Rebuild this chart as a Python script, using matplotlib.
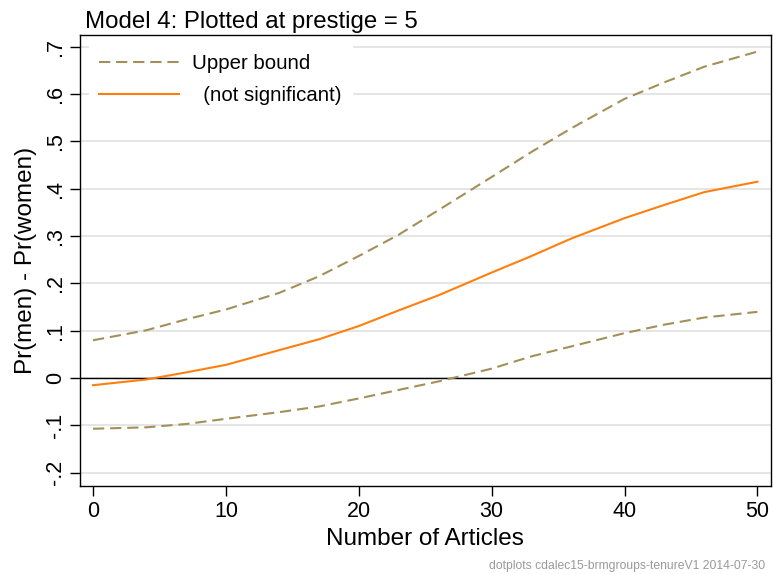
import matplotlib
matplotlib.use('Agg')
import matplotlib.pyplot as plt

plt.rcParams['font.family'] = ['Liberation Sans', 'DejaVu Sans']

# data
articles = [0, 4, 7, 10, 14, 17, 20, 23, 26, 30, 33, 36, 40, 43, 46, 50]
upper = [0.080, 0.101, 0.124, 0.145, 0.180, 0.215, 0.258, 0.303, 0.355, 0.425,
         0.478, 0.528, 0.590, 0.625, 0.658, 0.690]
diff = [-0.015, -0.003, 0.012, 0.028, 0.059, 0.082, 0.110, 0.143, 0.175, 0.223,
        0.258, 0.295, 0.338, 0.366, 0.393, 0.415]
lower = [-0.107, -0.104, -0.097, -0.086, -0.072, -0.060, -0.043, -0.025, -0.007, 0.020,
         0.046, 0.067, 0.095, 0.113, 0.128, 0.140]

yticks = [-0.2, -0.1, 0, 0.1, 0.2, 0.3, 0.4, 0.5, 0.6, 0.7]
ylabels = ['-.2', '-.1', '0', '.1', '.2', '.3', '.4', '.5', '.6', '.7']
xticks = [0, 10, 20, 30, 40, 50]

band_col = '#A38F58'
mid_col = '#FF7F0E'
dash = (0, (5.4, 2.8))

fig = plt.figure(figsize=(7.73, 5.74), dpi=100)
ax = fig.add_axes([0.1035, 0.1533, 0.8935, 0.7857])

for y in yticks:
    ax.axhline(y, color='#E0E0E0', lw=1.2, zorder=0)
ax.axhline(0, color='black', lw=1.0, zorder=1)

ax.plot(articles, upper, color=band_col, lw=1.5, ls=dash, label='Upper bound')
ax.plot(articles, diff, color=mid_col, lw=1.5, label='  (not significant)')
ax.plot(articles, lower, color=band_col, lw=1.5, ls=dash)

ax.set_xlim(-0.98, 51.0)
ax.set_ylim(-0.228, 0.725)
ax.set_yticks(yticks)
ax.set_yticklabels(ylabels, rotation=90, va='center')
ax.set_xticks(xticks)
ax.tick_params(axis='both', labelsize=15.5, length=7, width=1)
ax.tick_params(axis='y', pad=3)
ax.tick_params(axis='x', pad=4)

ax.set_xlabel('Number of Articles', fontsize=17.5, labelpad=4)
ax.set_ylabel('Pr(men) - Pr(women)', fontsize=17.5, labelpad=6)
ax.set_title('Model 4: Plotted at prestige = 5', fontsize=17.3, loc='left', x=0.007, pad=5)

for s in ax.spines.values():
    s.set_linewidth(1.0)

leg = ax.legend(loc='upper left', frameon=True, fontsize=14.7, handlelength=3.9,
                handletextpad=0.65, borderaxespad=0.45, borderpad=0.5, labelspacing=0.6,
                fancybox=False)
leg.get_frame().set_facecolor('white')
leg.get_frame().set_edgecolor('white')
leg.get_frame().set_alpha(1)

fig.text(0.99, 0.003, 'dotplots cdalec15-brmgroups-tenureV1 2014-07-30',
         ha='right', va='bottom', fontsize=8.7, color='#9A9A9A')

fig.savefig('out.png', dpi=100)
